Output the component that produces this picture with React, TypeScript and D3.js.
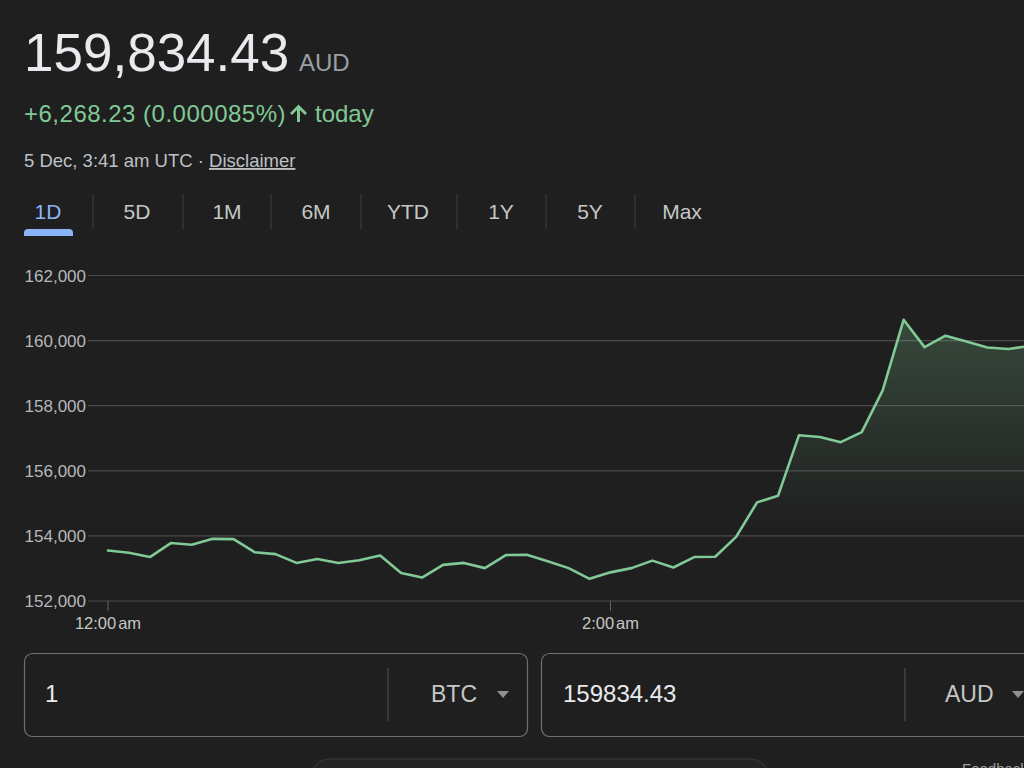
import React from "react";
import * as d3 from "d3";

// ---- data ----
const prices: number[] = [
  153550, 153480, 153350, 153780, 153730, 153910, 153900, 153500, 153440, 153170,
  153290, 153170, 153250, 153400, 152860, 152720, 153110, 153170, 153010, 153410,
  153420, 153220, 153010, 152680, 152880, 153010, 153240, 153030, 153350, 153360,
  153970, 155030, 155230, 157090, 157040, 156880, 157190, 158470, 160640, 159800,
  160150, 159970, 159790, 159740, 159834.43,
];
const yTicks: number[] = [152000, 154000, 156000, 158000, 160000, 162000];
const xTickIndex: number[] = [0, 24];
const xTickLabels: string[] = ["12:00", "2:00"];
const tabs: string[] = ["1D", "5D", "1M", "6M", "YTD", "1Y", "5Y", "Max"];
const priceText = "159,834.43";
const currency = "AUD";
const changeText = "+6,268.23 (0.000085%)";
const dateText = "5 Dec, 3:41 am UTC · ";
const fromAmount = "1";
const fromCurrency = "BTC";
const toAmount = "159834.43";
const toCurrency = "AUD";

// ---- layout ----
const W = 1024;
const H = 768;
const BG = "#1f1f1f";
const GREEN = "#81c995";
const FONT = "'Liberation Sans', Arial, Helvetica, sans-serif";
const tabCenters = [48, 137, 227, 316, 408, 501, 590, 682];
const tabSeps = [93, 183, 271, 361, 457, 546, 635];

export default function App() {
  const x = d3.scaleLinear().domain([0, 24]).range([108, 610.5]);
  const y = d3.scaleLinear().domain([152000, 162000]).range([601, 275.5]);
  const fmt = d3.format(",");

  const line = d3
    .line<number>()
    .x((_, i) => x(i))
    .y((d) => y(d));
  const area = d3
    .area<number>()
    .x((_, i) => x(i))
    .y0(y(152000))
    .y1((d) => y(d));

  const topY = y(d3.max(prices) as number);

  return (
    <div style={{ position: "fixed", left: 0, top: 0, width: W, height: H, overflow: "hidden" }}>
      <svg width={W} height={H} style={{ display: "block", background: BG }} fontFamily={FONT}>
        <defs>
          <linearGradient id="fillGrad" gradientUnits="userSpaceOnUse" x1="0" x2="0" y1={topY} y2={y(152000)}>
            <stop offset="0" stopColor={GREEN} stopOpacity={0.24} />
            <stop offset="0.75" stopColor={GREEN} stopOpacity={0} />
          </linearGradient>
        </defs>
        <rect x={0} y={0} width={W} height={H} fill={BG} />

        {/* header */}
        <text x={24} y={71} fontSize={53} fill="#e8eaed">{priceText}</text>
        <text x={299} y={71} fontSize={24} fill="#9aa0a6">{currency}</text>
        <text x={24} y={122} fontSize={24} letterSpacing={0.5} fill={GREEN}>{changeText}</text>
        <path
          d="M297,122 L297,110 L292,115 L290,113 L298.5,104.5 L307,113 L305,115 L300,110 L300,122 Z"
          fill={GREEN}
        />
        <text x={315} y={122} fontSize={24} fill={GREEN}>today</text>
        <text x={24} y={167} fontSize={18.5} fill="#bdc1c6">
          {dateText}
          <tspan textDecoration="underline">Disclaimer</tspan>
        </text>

        {/* tabs */}
        {tabs.map((t, i) => (
          <text
            key={t}
            x={tabCenters[i]}
            y={219}
            fontSize={21}
            textAnchor="middle"
            fill={i === 0 ? "#8ab4f8" : "#c4c7c5"}
          >
            {t}
          </text>
        ))}
        {tabSeps.map((sx) => (
          <line key={sx} x1={sx} x2={sx} y1={194} y2={229} stroke="#3c4043" strokeWidth={1} />
        ))}
        <path d="M24,236 L24,233 Q24,229 28,229 L69,229 Q73,229 73,233 L73,236 Z" fill="#8ab4f8" />

        {/* grid + y labels */}
        {yTicks.map((v) => (
          <g key={v}>
            <line x1={88} x2={W} y1={y(v)} y2={y(v)} stroke="#4a4b4d" strokeWidth={1.2} />
            <text x={86} y={y(v) + 6} fontSize={17} textAnchor="end" fill="#b5b8bc">
              {fmt(v)}
            </text>
          </g>
        ))}

        {/* x ticks */}
        {xTickIndex.map((ti, k) => (
          <g key={ti}>
            <line x1={x(ti)} x2={x(ti)} y1={601} y2={611} stroke="#5f6368" strokeWidth={1} />
            <text x={x(ti)} y={629} fontSize={16.5} textAnchor="middle" fill="#c4c7c5">
              {xTickLabels[k]}
              <tspan dx={2}>am</tspan>
            </text>
          </g>
        ))}

        {/* area + line */}
        <path d={area(prices) || ""} fill="url(#fillGrad)" />
        <path
          d={line(prices) || ""}
          fill="none"
          stroke={GREEN}
          strokeWidth={2.6}
          strokeLinejoin="round"
          strokeLinecap="round"
        />

        {/* converter boxes */}
        <rect x={24.5} y={653.5} width={503} height={83} rx={8} fill="none" stroke="#6f7270" strokeWidth={1.2} />
        <line x1={388} x2={388} y1={668} y2={721} stroke="#4a4b4d" strokeWidth={1.2} />
        <text x={45} y={702} fontSize={24} fill="#e8eaed">{fromAmount}</text>
        <text x={431} y={702} fontSize={23} fill="#c4c7c5">{fromCurrency}</text>
        <path d="M497,691 L509,691 L503,698 Z" fill="#8e918f" />

        <rect x={541.5} y={653.5} width={520} height={83} rx={8} fill="none" stroke="#6f7270" strokeWidth={1.2} />
        <line x1={905} x2={905} y1={668} y2={721} stroke="#4a4b4d" strokeWidth={1.2} />
        <text x={563} y={702} fontSize={24} fill="#e8eaed">{toAmount}</text>
        <text x={945} y={702} fontSize={23} fill="#c4c7c5">{toCurrency}</text>
        <path d="M1012,691 L1024,691 L1018,698 Z" fill="#8e918f" />

        {/* bottom partial elements */}
        <rect x={310} y={759} width={460} height={40} rx={20} fill="#242424" stroke="#3c3c3c" strokeWidth={1} />
        <text x={962} y={774} fontSize={15} fill="#9aa0a6">Feedback</text>
      </svg>
    </div>
  );
}
